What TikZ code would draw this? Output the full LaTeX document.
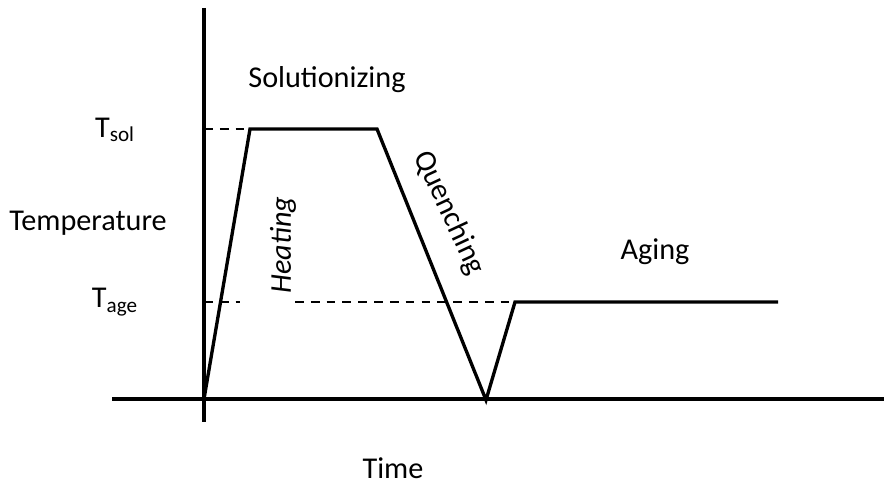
\documentclass[tikz,border=0pt]{standalone}
\usepackage{fontspec}
\setmainfont{Carlito}
\usetikzlibrary{positioning}

\begin{document}
\begin{tikzpicture}[x=0.02cm, y=-0.02cm,
	axis/.style={line width=1.9pt},
	profile/.style={line width=1.9pt, line join=miter},
	level/.style={dashed, line width=0.8pt, dash pattern=on 5pt off 4pt},
	lbl/.style={font=\fontsize{17.2}{20}\selectfont, inner sep=0pt}]
	\useasboundingbox (0,0) rectangle (884,483);
			% axes
			\draw[axis] (204,8) coordinate (y top) -- (204,422) coordinate (y bot);
			\draw[axis] (112,399) coordinate (x left) -- (884,399) coordinate (x right);
			% heat treatment profile
			\coordinate (start) at (204,399);
			\coordinate (sol a) at (250,129);
			\coordinate (sol b) at (377,129);
			\coordinate (cold) at (486,400);
			\coordinate (age a) at (515,302);
			\coordinate (age b) at (778,302);
			\draw[level] (204,129) -- (sol a);
			\draw[level] (204,302) -- (240,302);
			\draw[level] (295,302) -- (age a);
			\draw[profile] (start) -- (sol a) -- (sol b) -- (cold) -- (age a) -- (age b);
			% labels
			\node[lbl] (tsol) at (115,130) {T\textsubscript{sol}};
			\node[lbl] (tage) at (115,302) {T\textsubscript{age}};
			\node[lbl] (temp) at (88,223) {Temperature};
			\node[lbl] (time) at (393,468) {Time};
			\node[lbl] (solut) at (327,80) {Solutionizing};
			\node[lbl, rotate=90] (heat) at (283,245) {\itshape Heating};
			\node[lbl, rotate=-65] (quench) at (449,213) {Quenching};
			\node[lbl] (aging) at (655,252) {Aging};
\end{tikzpicture}
\end{document}
